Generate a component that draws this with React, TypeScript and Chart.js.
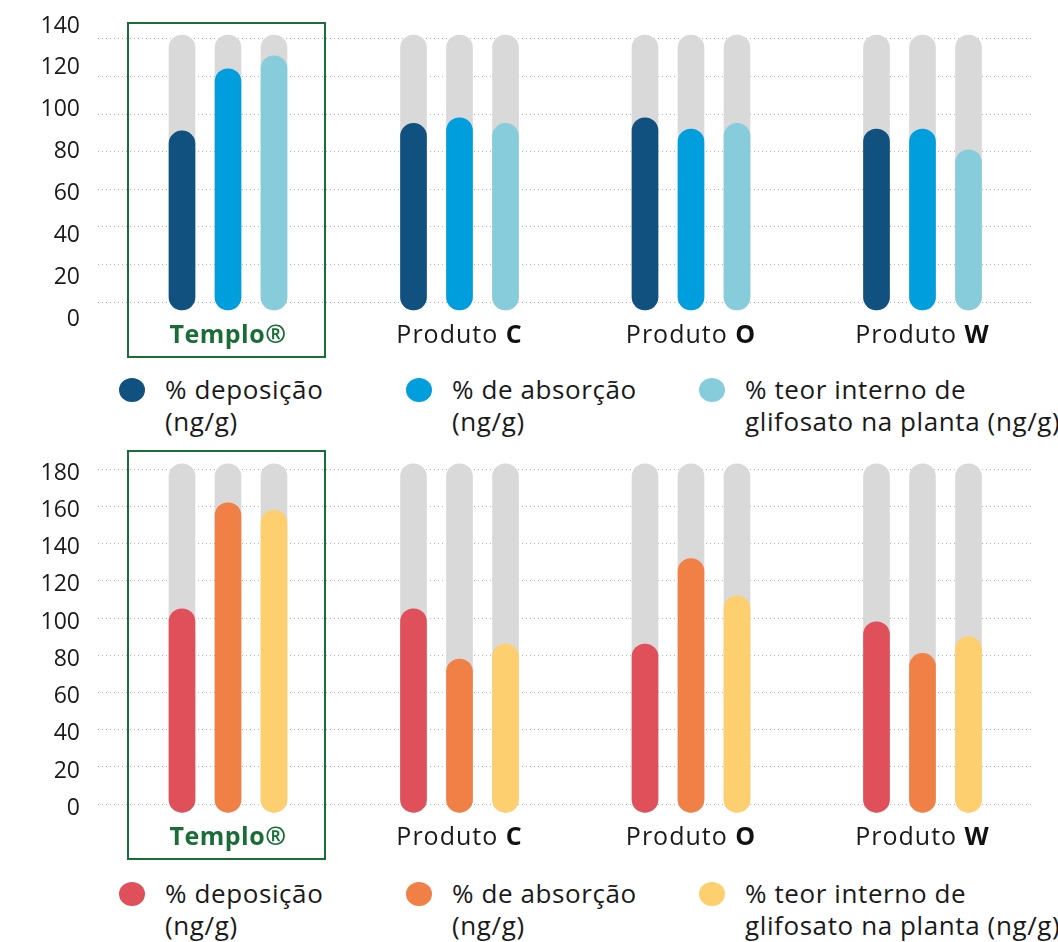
import React, { useEffect, useRef } from 'react';
import { Chart, registerables } from 'chart.js';

Chart.register(...registerables);

// ---------- data ----------
const categories = ['Templo®', 'Produto C', 'Produto O', 'Produto W'];
const categoryPrefix = ['', 'Produto ', 'Produto ', 'Produto '];
const categoryMark = ['Templo®', 'C', 'O', 'W'];

const seriesLabels = ['% deposição (ng/g)', '% de absorção (ng/g)', '% teor interno de glifosato na planta (ng/g)'];
const legendLines = [
  ['% deposição', '(ng/g)'],
  ['% de absorção', '(ng/g)'],
  ['% teor interno de', 'glifosato na planta (ng/g)'],
];

// top panel (blue tones)
const topDeposicao = [91, 95, 98, 92];
const topAbsorcao = [124, 98, 92, 92];
const topTeor = [131, 95, 95, 81];
const topTrackMax = 142;
const topTickStep = 20;

// bottom panel (warm tones)
const bottomDeposicao = [105, 105, 86, 98];
const bottomAbsorcao = [162, 78, 132, 81];
const bottomTeor = [158, 86, 112, 90];
const bottomTrackMax = 183;
const bottomTickStep = 20;

// ---------- styles / layout ----------
const FONT = "'Open Sans', 'Noto Sans', sans-serif";
const GREEN = '#1a6d36';
const TRACK = '#d9d9d9';
const TEXT = '#1a1a1a';
const topColors = ['#10517f', '#009edd', '#87ccdb'];
const bottomColors = ['#e0505b', '#f08046', '#fecf6e'];

const W = 1058;
const AREA_LEFT = 98;
const AREA_RIGHT = 1032;
const GROUP0_PX = 228;
const GROUP_STEP_PX = 231.5;
const BAR_STEP = 46;
const BAR_W = 26;

type Panel = {
  key: string;
  values: number[][];
  colors: string[];
  track: number;
  tickStep: number;
  canvasTop: number;
  canvasH: number;
  areaTop: number;
  areaBottom: number;
  zeroPx: number;
  unitPx: number;
  labelZeroPx: number;
  labelUnitPx: number;
  barBottomPx: number;
  frame: { x: number; y: number; w: number; h: number };
  labelBaseline: number;
  legendTop: number;
};

const panels: Panel[] = [
  {
    key: 'top',
    values: [topDeposicao, topAbsorcao, topTeor],
    colors: topColors,
    track: topTrackMax,
    tickStep: topTickStep,
    canvasTop: 0,
    canvasH: 360,
    areaTop: 20,
    areaBottom: 320,
    zeroPx: 302,
    unitPx: 1.88,
    labelZeroPx: 319,
    labelUnitPx: 2.093,
    barBottomPx: 310,
    frame: { x: 128, y: 23, w: 197, h: 334 },
    labelBaseline: 343,
    legendTop: 373,
  },
  {
    key: 'bottom',
    values: [bottomDeposicao, bottomAbsorcao, bottomTeor],
    colors: bottomColors,
    track: bottomTrackMax,
    tickStep: bottomTickStep,
    canvasTop: 430,
    canvasH: 440,
    areaTop: 20,
    areaBottom: 390,
    zeroPx: 374,
    unitPx: 1.859,
    labelZeroPx: 378.3,
    labelUnitPx: 1.863,
    barBottomPx: 382.3,
    frame: { x: 128, y: 21, w: 197, h: 408 },
    labelBaseline: 415,
    legendTop: 877,
  },
];

const decorPlugin = {
  id: 'panelDecor',
  afterDraw(chart: any, _args: any, opts: any) {
    const { ctx } = chart;
    const xs = chart.scales.x;
    ctx.save();
    const f = opts.frame;
    ctx.strokeStyle = GREEN;
    ctx.lineWidth = 2;
    ctx.strokeRect(f.x, f.y, f.w, f.h);
    ctx.textBaseline = 'alphabetic';
    ctx.textAlign = 'left';
    categories.forEach((_, i) => {
      const cx = xs.getPixelForValue(i);
      const prefix = categoryPrefix[i];
      const mark = categoryMark[i];
      const regular = `400 25px ${FONT}`;
      const bold = `700 25px ${FONT}`;
      ctx.letterSpacing = prefix ? '1px' : '0.5px';
      ctx.font = regular;
      const w1 = prefix ? ctx.measureText(prefix).width : 0;
      ctx.font = bold;
      const w2 = ctx.measureText(mark).width;
      let x = cx - (w1 + w2) / 2;
      if (prefix) {
        ctx.font = regular;
        ctx.fillStyle = TEXT;
        ctx.fillText(prefix, x, opts.baseline);
        x += w1;
      }
      ctx.font = bold;
      ctx.fillStyle = i === 0 ? GREEN : '#111111';
      ctx.fillText(mark, x, opts.baseline);
    });
    ctx.restore();
  },
};

const fixWidth = (w: number) => (s: any) => {
  s.width = w;
  s.paddingTop = 0;
  s.paddingBottom = 0;
  s.paddingLeft = 0;
  s.paddingRight = 0;
};

function buildConfig(p: Panel): any {
  const xMin = (AREA_LEFT - GROUP0_PX) / GROUP_STEP_PX;
  const xMax = (AREA_RIGHT - GROUP0_PX) / GROUP_STEP_PX;
  const yMin = (p.zeroPx - p.areaBottom) / p.unitPx;
  const yMax = (p.zeroPx - p.areaTop) / p.unitPx;
  const lMin = (p.labelZeroPx - p.areaBottom) / p.labelUnitPx;
  const lMax = (p.labelZeroPx - p.areaTop) / p.labelUnitPx;
  const base = (p.zeroPx - p.barBottomPx) / p.unitPx;

  const common = {
    borderRadius: BAR_W / 2,
    borderSkipped: false,
    barThickness: BAR_STEP,
    maxBarThickness: BAR_W,
    base,
    xAxisID: 'x',
    yAxisID: 'y',
  };

  const colored = p.values.map((vals, s) => ({
    ...common,
    label: seriesLabels[s],
    stack: 'slot' + s,
    data: vals.map((v, i) => ({ x: i, y: v })),
    backgroundColor: p.colors[s],
    order: 0,
  }));
  const tracks = p.values.map((vals, s) => ({
    ...common,
    label: 'max ' + seriesLabels[s],
    stack: 'slot' + s,
    data: vals.map((_, i) => ({ x: i, y: p.track })),
    backgroundColor: TRACK,
    order: 1,
  }));

  return {
    type: 'bar',
    data: { datasets: [...colored, ...tracks] },
    plugins: [decorPlugin],
    options: {
      animation: false,
      responsive: false,
      events: [],
      layout: {
        autoPadding: false,
        padding: { top: p.areaTop, bottom: p.canvasH - p.areaBottom, left: 0, right: W - AREA_RIGHT },
      },
      plugins: {
        legend: { display: false },
        tooltip: { enabled: false },
        panelDecor: { frame: p.frame, baseline: p.labelBaseline },
      },
      scales: {
        x: { type: 'linear', display: false, min: xMin, max: xMax, offset: false, stacked: true },
        yl: {
          type: 'linear',
          position: 'left',
          min: lMin,
          max: lMax,
          afterFit: fixWidth(AREA_LEFT),
          grid: { display: false, drawTicks: false },
          border: { display: false },
          ticks: {
            stepSize: p.tickStep,
            includeBounds: false,
            padding: 18,
            color: TEXT,
            font: { family: FONT, size: 23, weight: '400' },
          },
        },
        y: {
          type: 'linear',
          position: 'left',
          stacked: false,
          min: yMin,
          max: yMax,
          afterFit: fixWidth(0),
          grid: { color: '#b4b4b4', lineWidth: 1, drawTicks: false },
          border: { display: false, dash: [1, 3] },
          ticks: { display: false, stepSize: p.tickStep, includeBounds: false },
        },
      },
    },
  };
}

function PanelChart({ panel }: { panel: Panel }) {
  const ref = useRef<HTMLCanvasElement>(null);
  useEffect(() => {
    if (!ref.current) return;
    const chart = new Chart(ref.current, buildConfig(panel));
    return () => chart.destroy();
  }, [panel]);
  return (
    <canvas
      ref={ref}
      width={W}
      height={panel.canvasH}
      style={{ position: 'absolute', left: 0, top: panel.canvasTop, width: W, height: panel.canvasH }}
    />
  );
}

const legendCircleX = [132, 419, 712];
const legendTextX = [165, 452, 745];

function Legend({ panel }: { panel: Panel }) {
  return (
    <>
      {legendLines.map((lines, i) => (
        <React.Fragment key={i}>
          <div
            style={{
              position: 'absolute',
              left: legendCircleX[i] - 13,
              top: panel.legendTop + 16.5 - 12,
              width: 26,
              height: 24,
              borderRadius: '50%',
              background: panel.colors[i],
            }}
          />
          <div
            style={{
              position: 'absolute',
              left: legendTextX[i],
              top: panel.legendTop,
              font: `400 26px ${FONT}`,
              lineHeight: '32px',
              letterSpacing: '0.6px',
              color: TEXT,
              whiteSpace: 'nowrap',
            }}
          >
            {lines.map((l, j) => (
              <div key={j}>{l}</div>
            ))}
          </div>
        </React.Fragment>
      ))}
    </>
  );
}

export default function App() {
  return (
    <div
      style={{
        position: 'absolute',
        left: 0,
        top: 0,
        width: W,
        height: 942,
        background: '#ffffff',
        overflow: 'hidden',
      }}
    >
      {panels.map((p) => (
        <React.Fragment key={p.key}>
          <PanelChart panel={p} />
          <Legend panel={p} />
        </React.Fragment>
      ))}
    </div>
  );
}
